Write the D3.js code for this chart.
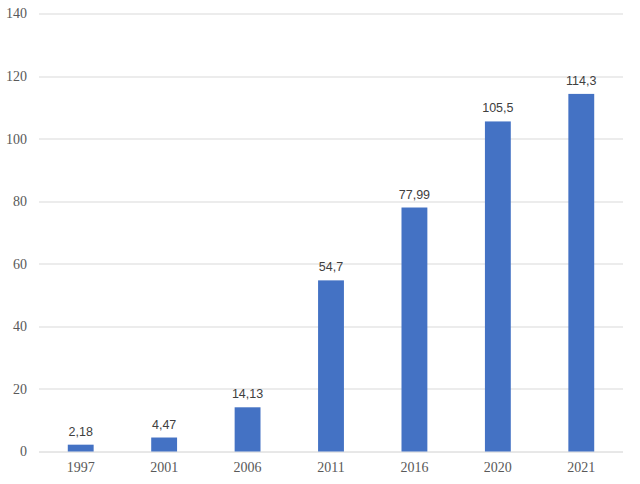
<!DOCTYPE html>
<html>
<head>
<meta charset="utf-8">
<script src="https://cdn.jsdelivr.net/npm/d3@7"></script>
<style>
body{margin:0;background:#fff}
</style>
</head>
<body>
<svg></svg>
<script>
var years = ["1997","2001","2006","2011","2016","2020","2021"]
var values = [2.18,4.47,14.13,54.7,77.99,105.5,114.3]
var labels = ["2,18","4,47","14,13","54,7","77,99","105,5","114,3"]
var yTicks = [0,20,40,60,80,100,120,140]

var screen = {width:640,height:484}
var margins = {top:13.5,right:17,left:39,bottom:32.5}

var width = screen.width - margins.left - margins.right
var height = screen.height - margins.top - margins.bottom

var svg = d3.select("svg")
    .attr("width",screen.width)
    .attr("height",screen.height)

var g = svg.append("g")
    .attr("transform","translate("+margins.left+","+margins.top+")")

var xScale = d3.scaleBand()
    .domain(years)
    .range([0,width])
var yScale = d3.scaleLinear()
    .domain([0,140])
    .range([height,0])

// gridlines
g.selectAll(".grid")
    .data(yTicks)
    .enter()
    .append("line")
    .attr("x1",0)
    .attr("x2",width)
    .attr("y1",function(d){return Math.round(yScale(d))+0.5})
    .attr("y2",function(d){return Math.round(yScale(d))+0.5})
    .attr("stroke",function(d){return d==0 ? "#d0d0d0" : "#d9d9d9"})
    .attr("stroke-width",1)

// y labels
g.selectAll(".ylab")
    .data(yTicks)
    .enter()
    .append("text")
    .attr("x",-12)
    .attr("y",function(d){return yScale(d)})
    .attr("dy","0.35em")
    .attr("text-anchor","end")
    .attr("font-family","Liberation Serif, serif")
    .attr("font-size",14)
    .attr("fill","#595959")
    .text(function(d){return d})

// x labels
g.selectAll(".xlab")
    .data(years)
    .enter()
    .append("text")
    .attr("x",function(d){return xScale(d)+xScale.bandwidth()/2})
    .attr("y",height+20)
    .attr("text-anchor","middle")
    .attr("font-family","Liberation Serif, serif")
    .attr("font-size",14)
    .attr("fill","#595959")
    .text(function(d){return d})

var barW = xScale.bandwidth()*0.31

g.selectAll("rect")
    .data(values)
    .enter()
    .append("rect")
    .attr("x",function(d,i){return xScale(years[i])+xScale.bandwidth()/2-barW/2})
    .attr("y",function(d){return yScale(d)})
    .attr("width",barW)
    .attr("height",function(d){return height-yScale(d)})
    .attr("fill","#4472C4")

g.selectAll(".dlab")
    .data(values)
    .enter()
    .append("text")
    .attr("x",function(d,i){return xScale(years[i])+xScale.bandwidth()/2})
    .attr("y",function(d){return yScale(d)-9})
    .attr("text-anchor","middle")
    .attr("font-family","Liberation Sans, Arial, sans-serif")
    .attr("font-size",12.5)
    .attr("fill","#404040")
    .text(function(d,i){return labels[i]})
</script>
</body>
</html>
